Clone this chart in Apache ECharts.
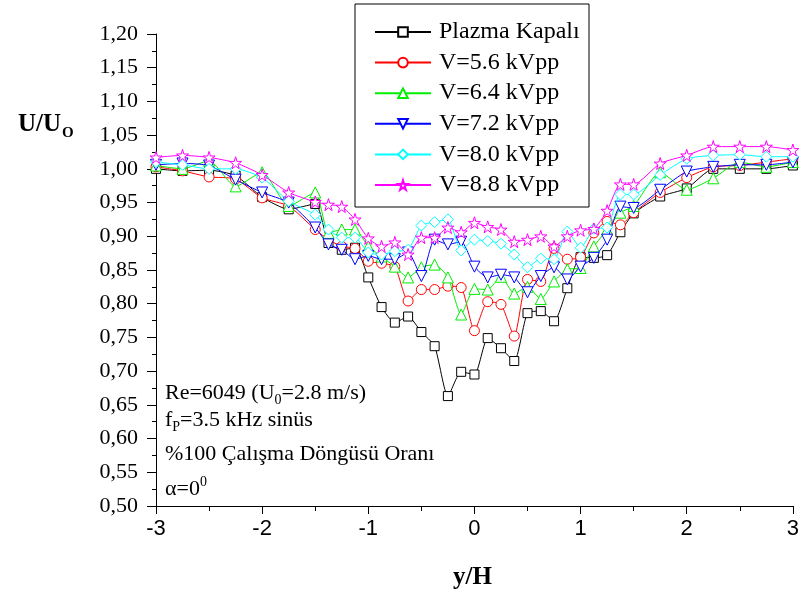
<!DOCTYPE html>
<html>
<head>
<meta charset="utf-8">
<script src="https://cdn.jsdelivr.net/npm/echarts@6/dist/echarts.min.js"></script>
<style>
html,body{margin:0;padding:0;background:#fff;}
#chart{width:802px;height:601px;}
</style>
</head>
<body>
<div id="chart"></div>
<script>
// ---- data ----
const xs = [-3,-2.75,-2.5,-2.25,-2,-1.75,-1.5,-1.375,-1.25,-1.125,-1,-0.875,-0.75,-0.625,-0.5,-0.375,-0.25,-0.125,0,0.125,0.25,0.375,0.5,0.625,0.75,0.875,1,1.125,1.25,1.375,1.5,1.75,2,2.25,2.5,2.75,3];
const plazmaKapali = [1.000,0.997,0.998,0.990,0.958,0.940,0.948,0.890,0.880,0.883,0.839,0.795,0.772,0.781,0.758,0.737,0.663,0.699,0.695,0.749,0.734,0.715,0.786,0.789,0.774,0.823,0.869,0.868,0.872,0.906,0.934,0.959,0.971,1.000,1.000,1.000,1.005];
const v56 = [1.003,0.997,0.988,0.985,0.957,0.945,0.910,0.895,0.885,0.882,0.863,0.860,0.855,0.804,0.821,0.821,0.826,0.824,0.760,0.803,0.799,0.752,0.836,0.833,0.882,0.866,0.869,0.905,0.922,0.917,0.935,0.965,0.987,1.003,1.005,1.010,1.015];
const v64 = [1.005,1.000,1.012,0.974,0.995,0.945,0.965,0.905,0.910,0.910,0.885,0.870,0.855,0.839,0.854,0.858,0.839,0.784,0.822,0.821,0.840,0.815,0.825,0.807,0.833,0.851,0.853,0.885,0.910,0.935,0.945,0.995,0.969,0.986,1.010,1.003,1.010];
const v72 = [1.006,1.008,1.005,0.984,0.965,0.950,0.913,0.888,0.880,0.866,0.871,0.866,0.866,0.876,0.841,0.895,0.888,0.892,0.855,0.839,0.843,0.839,0.817,0.841,0.854,0.836,0.855,0.868,0.895,0.944,0.942,0.969,0.996,1.003,1.006,1.006,1.010];
const v80 = [1.010,1.006,1.000,1.000,0.987,0.952,0.932,0.910,0.898,0.898,0.876,0.873,0.878,0.880,0.916,0.921,0.925,0.879,0.895,0.893,0.889,0.873,0.854,0.867,0.866,0.907,0.883,0.911,0.913,0.962,0.962,0.991,1.015,1.020,1.021,1.018,1.018];
const v88 = [1.017,1.020,1.017,1.009,0.991,0.965,0.951,0.947,0.944,0.925,0.897,0.885,0.891,0.873,0.898,0.898,0.913,0.906,0.920,0.914,0.910,0.892,0.895,0.900,0.885,0.900,0.909,0.911,0.938,0.977,0.977,1.008,1.020,1.033,1.033,1.033,1.028];
const seriesNames = ['Plazma Kapalı','V=5.6 kVpp','V=6.4 kVpp','V=7.2 kVpp','V=8.0 kVpp','V=8.8 kVpp'];
const xTickLabels = ['-3','-2','-1','0','1','2','3'];
const yTickLabels = ['0,50','0,55','0,60','0,65','0,70','0,75','0,80','0,85','0,90','0,95','1,00','1,05','1,10','1,15','1,20'];

// ---- styling ----
const seriesValues = [plazmaKapali, v56, v64, v72, v80, v88];
const colors = ['#000000','#ff0000','#00ee00','#0000ff','#00ffff','#ff00ff'];
const symbols = [
  'rect',
  'circle',
  'triangle',
  'path://M0,0 L100,0 L50,87 Z',
  'diamond',
  'path://M50,0 L61,35 L98,35 L68,57 L79,91 L50,70 L21,91 L32,57 L2,35 L39,35 Z'
];
const sizes = [9, 10, 11, 11, 11, 12];

const series = seriesValues.map((vals, i) => ({
  name: seriesNames[i],
  type: 'line',
  data: xs.map((x, j) => [x, vals[j]]),
  smooth: 0.2,
  symbol: symbols[i],
  symbolSize: sizes[i],
  showAllSymbol: true,
  lineStyle: { color: colors[i], width: 1 },
  itemStyle: { color: '#ffffff', borderColor: colors[i], borderWidth: 1 },
  emphasis: { disabled: true },
  z: 2 + i
}));

const serif = 'Liberation Serif';
const chart = echarts.init(document.getElementById('chart'), null, { renderer: 'canvas' });
chart.setOption({
  animation: false,
  backgroundColor: '#ffffff',
  grid: { left: 156, right: 9, top: 34, bottom: 95 },
  xAxis: {
    type: 'value', min: -3, max: 3, interval: 1,
    axisLine: { show: true, onZero: false, lineStyle: { color: '#000', width: 1 } },
    axisTick: { show: true, length: 8, lineStyle: { color: '#000' } },
    minorTick: { show: true, splitNumber: 2, length: 5, lineStyle: { color: '#000' } },
    splitLine: { show: false },
    axisLabel: { color: '#000', fontSize: 22, fontFamily: 'Liberation Sans', margin: 12,
      formatter: v => xTickLabels[Math.round(v + 3)] }
  },
  yAxis: {
    type: 'value', min: 0.5, max: 1.2, interval: 0.05,
    axisLine: { show: true, onZero: false, lineStyle: { color: '#000', width: 1 } },
    axisTick: { show: true, length: 9, lineStyle: { color: '#000' } },
    minorTick: { show: true, splitNumber: 2, length: 4, lineStyle: { color: '#000' } },
    splitLine: { show: false },
    axisLabel: { color: '#000', fontSize: 22, fontFamily: serif, margin: 18,
      formatter: v => yTickLabels[Math.round((v - 0.5) / 0.05)] }
  },
  legend: {
    data: seriesNames,
    orient: 'vertical',
    left: 374, top: 20,
    padding: 0,
    itemWidth: 56, itemHeight: 12, itemGap: 6.6,
    textStyle: { fontSize: 24, fontFamily: serif, color: '#000', lineHeight: 24, padding: [0,0,0,3] },
    selectedMode: false
  },
  graphic: [
    { type: 'rect', z: 100, shape: { x: 355, y: 4, width: 234, height: 203 },
      style: { fill: 'none', stroke: '#000', lineWidth: 1 } },
    { type: 'text', left: 18, top: 112, z: 100,
      style: { text: '{a|U/U}{b|O}', rich: {
        a: { font: 'bold 25px "Liberation Serif"', fill: '#000', lineHeight: 32, verticalAlign: 'middle' },
        b: { font: 'bold 15px "Liberation Serif"', fill: '#000', lineHeight: 32, verticalAlign: 'bottom', padding: [0,0,0,1] }
      } } },
    { type: 'text', left: 453, top: 565, z: 100,
      style: { text: 'y/H', font: 'bold 25px "Liberation Serif"', fill: '#000' } },
    { type: 'text', left: 165, top: 382, z: 100,
      style: { text: '{a|Re=6049 (U}{s|0}{a|=2.8 m/s)}', rich: {
        a: { font: '22px "Liberation Serif"', fill: '#000', lineHeight: 28, verticalAlign: 'middle' },
        s: { font: '14px "Liberation Serif"', fill: '#000', lineHeight: 28, verticalAlign: 'bottom' }
      } } },
    { type: 'text', left: 165, top: 409, z: 100,
      style: { text: '{a|f}{s|P}{a|=3.5 kHz sinüs}', rich: {
        a: { font: '22px "Liberation Serif"', fill: '#000', lineHeight: 28, verticalAlign: 'middle' },
        s: { font: '14px "Liberation Serif"', fill: '#000', lineHeight: 28, verticalAlign: 'bottom' }
      } } },
    { type: 'text', left: 165, top: 443, z: 100,
      style: { text: '%100 Çalışma Döngüsü Oranı', font: '22px "Liberation Serif"', fill: '#000' } },
    { type: 'text', left: 165, top: 475, z: 100,
      style: { text: '{a|α=0}{s|0}', rich: {
        a: { font: '22px "Liberation Serif"', fill: '#000', lineHeight: 28, verticalAlign: 'middle' },
        s: { font: '14px "Liberation Serif"', fill: '#000', lineHeight: 28, verticalAlign: 'top' }
      } } }
  ],
  series: series
});
</script>
</body>
</html>
